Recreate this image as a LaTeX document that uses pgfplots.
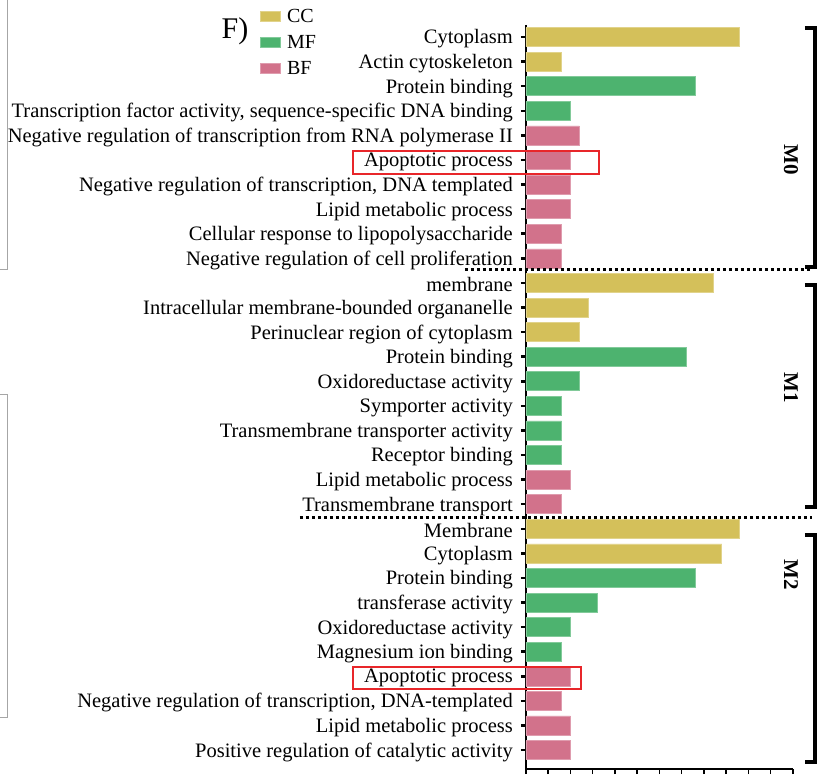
\documentclass[border=0pt]{standalone}
\usepackage{pgfplots}
\pgfplotsset{compat=1.18}
\usepackage{fontspec}
\setmainfont{Liberation Serif}

\definecolor{ccgold}{HTML}{D4C05A}
\definecolor{mfgreen}{HTML}{4DB36F}
\definecolor{bfpink}{HTML}{D2728B}
\definecolor{boxred}{HTML}{E8262A}

% gene counts per GO term, row index from top (0) to bottom (29)
\pgfplotstableread{
row count
0 24
1 4
10 21
11 7
12 6
20 24
21 22
}\cctable
\pgfplotstableread{
row count
2 19
3 5
13 18
14 6
15 4
16 4
17 4
22 19
23 8
24 5
25 4
}\mftable
\pgfplotstableread{
row count
4 6
5 5
6 5
7 5
8 4
9 4
18 5
19 4
26 5
27 4
28 5
29 5
}\bftable

\begin{document}
\begin{tikzpicture}[x=1pt,y=1pt]
\begin{axis}[
  at={(0pt,0pt)}, anchor=south west,
  scale only axis,
  width=267pt, height=744pt,
  xbar, bar width=19pt, bar shift=0pt,
  xmin=0, xmax=30,
  ymin=-0.49, ymax=29.77,
  y dir=reverse,
  axis lines*=left,
  axis line style={line width=2pt},
  xtick={0,2.5,...,30}, xticklabels={},
  ytick={0,...,29},
  yticklabels={
    Cytoplasm,
    Actin cytoskeleton,
    Protein binding,
    {Transcription factor activity, sequence-specific DNA binding},
    Negative regulation of transcription from RNA polymerase II,
    Apoptotic process,
    {Negative regulation of transcription, DNA templated},
    Lipid metabolic process,
    Cellular response to lipopolysaccharide,
    Negative regulation of cell proliferation,
    membrane,
    Intracellular membrane-bounded organanelle,
    Perinuclear region of cytoplasm,
    Protein binding,
    Oxidoreductase activity,
    Symporter activity,
    Transmembrane transporter activity,
    Receptor binding,
    Lipid metabolic process,
    Transmembrane transport,
    Membrane,
    Cytoplasm,
    Protein binding,
    transferase activity,
    Oxidoreductase activity,
    Magnesium ion binding,
    Apoptotic process,
    {Negative regulation of transcription, DNA-templated},
    Lipid metabolic process,
    Positive regulation of catalytic activity},
  yticklabel style={font=\fontsize{20.5}{21}\selectfont, inner sep=0pt, xshift=-8pt, yshift=-2pt},
  tick align=outside,
  y tick style={line width=2.5pt, black},
  x tick style={line width=1.5pt, black},
  major tick length=5pt,
  legend style={at={(-1.01,1.026)}, anchor=north west, draw=none, fill=none,
    font=\fontsize{20}{20}\selectfont, row sep=9.5pt,
    legend cell align=left,
    nodes={inner sep=1pt},
    /tikz/every odd column/.append style={column sep=6pt}},
  legend image code/.code={\fill[#1] (0pt,-5pt) rectangle (20pt,5pt);},
]
\addplot[fill=ccgold, draw=ccgold!70!white, line width=0.6pt] table[x=count, y=row] {\cctable};
\addplot[fill=mfgreen, draw=mfgreen!70!white, line width=0.6pt] table[x=count, y=row] {\mftable};
\addplot[fill=bfpink, draw=bfpink!70!white, line width=0.6pt] table[x=count, y=row] {\bftable};
\legend{CC, MF, BF}
\end{axis}

% panel tag
\node[font=\fontsize{30}{30}\selectfont] at (-291pt,738pt) {F)};

% module separators
\draw[line width=3pt, dash pattern=on 3pt off 3pt] (-61pt,499pt) -- (284pt,499pt);
\draw[line width=3pt, dash pattern=on 3pt off 3pt] (-226pt,251pt) -- (286pt,251pt);

% module brackets and names
\draw[line width=3.5pt] (279pt,741pt) -- (289pt,741pt) -- (289pt,502pt) -- (279pt,502pt);
\draw[line width=3.5pt] (279pt,484pt) -- (289pt,484pt) -- (289pt,262pt) -- (279pt,262pt);
\draw[line width=3.5pt] (279pt,234pt) -- (289pt,234pt) -- (289pt,7pt) -- (279pt,7pt);
\node[rotate=-90, font=\bfseries\fontsize{21}{21}\selectfont] at (265pt,609pt) {M0};
\node[rotate=-90, font=\bfseries\fontsize{21}{21}\selectfont] at (265pt,381pt) {M1};
\node[rotate=-90, font=\bfseries\fontsize{21}{21}\selectfont] at (265pt,194pt) {M2};

% highlighted terms
\draw[boxred, line width=1.5pt] (-173pt,595pt) rectangle (73pt,618pt);
\draw[boxred, line width=1.5pt] (-173pt,80pt) rectangle (55pt,102pt);

% edges of the neighbouring panels
\draw[gray!70, line width=1pt] (-518pt,769pt) -- (-518pt,499pt) -- (-526pt,499pt);
\draw[gray!70, line width=1pt] (-526pt,374pt) -- (-518pt,374pt) -- (-518pt,51pt) -- (-526pt,51pt);

\pgfresetboundingbox
\path[use as bounding box] (-526pt,-6pt) rectangle (297pt,769pt);
\end{tikzpicture}
\end{document}
